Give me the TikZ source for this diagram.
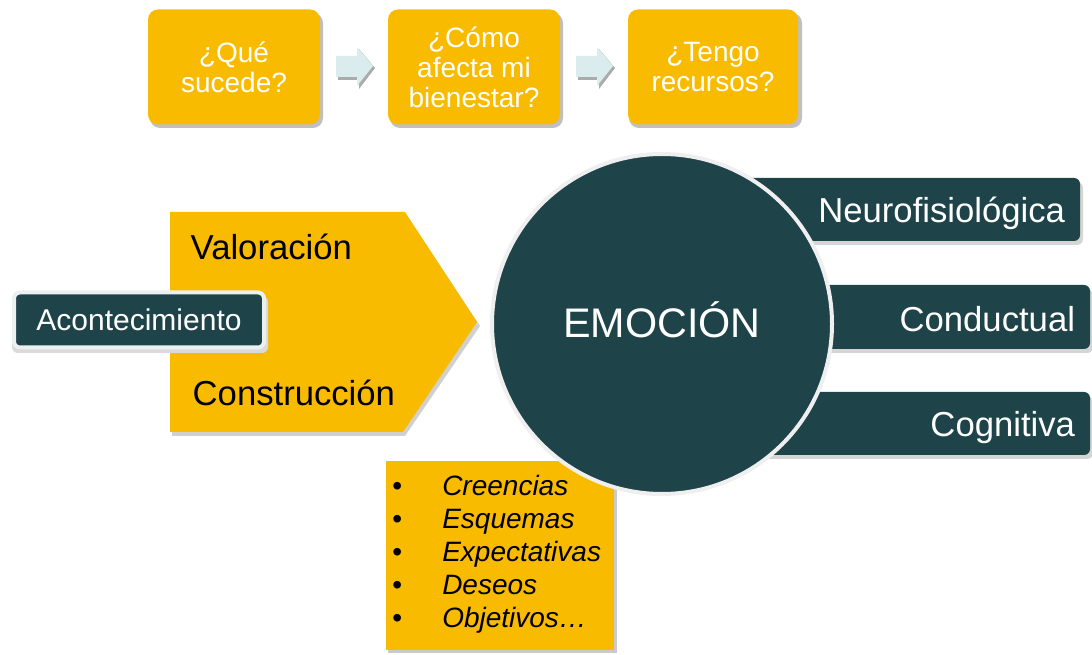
\documentclass[tikz,border=0pt]{standalone}
\usepackage{fontspec}
\setmainfont{Liberation Sans}
\usetikzlibrary{calc}
\newlength\px \setlength\px{0.75pt}
\definecolor{gold}{RGB}{249,187,0}
\definecolor{teal}{RGB}{30,68,73}
\definecolor{pale}{RGB}{218,236,238}
\definecolor{shade}{RGB}{150,150,150}
\tikzset{
  qbox/.style={fill=gold, rounded corners=10\px, minimum width=172\px, minimum height=115\px,
    align=center, text=white, font=\fontsize{21pt}{22.5pt}\selectfont, inner sep=0pt},
  qshadow/.style={fill=shade!60, rounded corners=10\px},
  darkbox/.style={fill=teal, rounded corners=6\px, text=white, inner ysep=0pt,
    font=\fontsize{26pt}{30pt}\selectfont},
  smallarrow/.style={fill=pale},
  arrowshadow/.style={fill=shade!80}
}
\begin{document}
\begin{tikzpicture}[x=0.75pt,y=-0.75pt]
\useasboundingbox (0,0) rectangle (1092,655);
% ---- top row ----
\foreach \cx in {234,474,713}{\fill[qshadow] (\cx-84,13) rectangle (\cx+89,128);}
\node[qbox] (q1) at (234,67) {¿Qué\\sucede?};
\node[qbox] (q2) at (474,67) {¿Cómo\\afecta mi\\bienestar?};
\node[qbox, minimum width=170\px] (q3) at (713,67) {¿Tengo\\recursos?};
% small arrows between boxes
\foreach \ax/\nm in {336/a1,576/a2}{
  \fill[arrowshadow] (\ax+2,58) -- (\ax+23,58) -- (\ax+23,49) -- (\ax+39,68) -- (\ax+23,89) -- (\ax+23,80) -- (\ax+2,80) -- cycle;
  \fill[smallarrow] (\ax,56) -- (\ax+21,56) -- (\ax+21,47) -- (\ax+37,66) -- (\ax+21,86) -- (\ax+21,77) -- (\ax,77) -- cycle;
}
% ---- right boxes (behind circle) ----
\fill[shade!40, rounded corners=6\px] (702,182) rectangle (1083,245);
\fill[shade!40, rounded corners=6\px] (702,289) rectangle (1093,353);
\fill[shade!40, rounded corners=6\px] (702,396) rectangle (1093,459);
\node[darkbox, minimum height=63\px, text width=350\px, align=right, inner xsep=15\px] (neu) at (890,209.5) {\raisebox{-4\px}[\height][\depth]{Neurofisiológica}};
\node[darkbox, minimum height=64\px, text width=360\px, align=right, inner xsep=15\px] (con) at (895,317) {\raisebox{-2\px}[\height][\depth]{Conductual}};
\node[darkbox, minimum height=63\px, text width=360\px, align=right, inner xsep=15\px] (cog) at (895,423.5) {\raisebox{-4\px}[\height][\depth]{Cognitiva}};
% ---- pentagon arrow ----
\fill[shade!45] (172,216) -- (407,216) -- (480,326) -- (405,436) -- (172,436) -- cycle;
\fill[gold] (170,212) coordinate (pa) -- (405,212) -- (477,322) coordinate (tip) -- (403,432) -- (170,432) -- cycle;
\node[font=\fontsize{26pt}{30pt}\selectfont, anchor=west] (val) at (186,247) {Valoración};
\node[font=\fontsize{26pt}{30pt}\selectfont, anchor=west] (cons) at (188,393) {Construcción};
% ---- event box ----
\fill[shade!35, rounded corners=6\px] (12,296) rectangle (268,353);
\node[darkbox, draw=white!92!teal, line width=4\px, minimum width=250\px, minimum height=55\px,
  font=\fontsize{22.5pt}{26pt}\selectfont] (ev) at (139,320) {Acontecimiento};
% ---- list box ----
\fill[shade!50] (388,464) rectangle (617,653);
\node[fill=gold, minimum width=228\px, minimum height=189\px, inner sep=0pt] (lst) at (500,555.5) {};
\node[anchor=north west, align=left, inner sep=0pt, font=\fontsize{21pt}{24.8pt}\selectfont] (items) at (392,475)
  {\makebox[50\px][l]{\textbullet}\textit{Creencias}\\
   \makebox[50\px][l]{\textbullet}\textit{Esquemas}\\
   \makebox[50\px][l]{\textbullet}\textit{Expectativas}\\
   \makebox[50\px][l]{\textbullet}\textit{Deseos}\\
   \makebox[50\px][l]{\textbullet}\textit{Objetivos…}};
% ---- circle ----
\node[circle, fill=teal, draw=white!85!shade, line width=4\px, minimum size=340\px, inner sep=0pt,
  text=white, font=\fontsize{31pt}{36pt}\selectfont] (emo) at (662,324) {\raisebox{4\px}[\height][\depth]{EMOCIÓN}};
\end{tikzpicture}
\end{document}
